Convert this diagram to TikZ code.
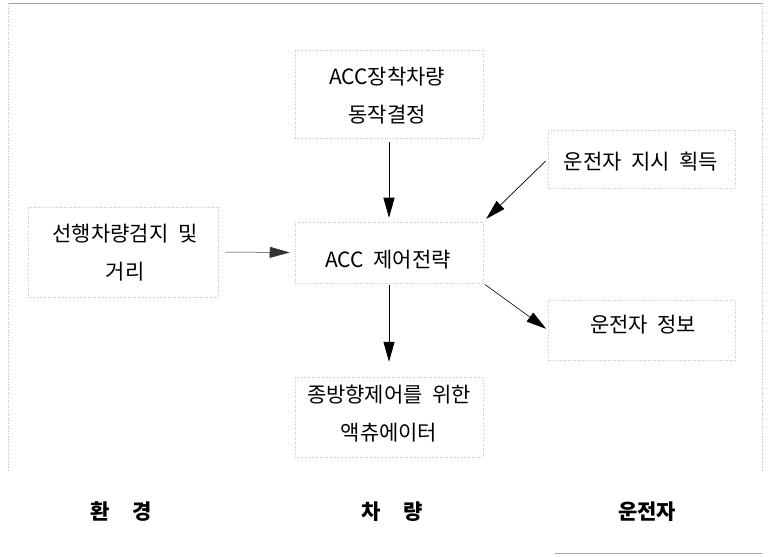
\documentclass[tikz,border=0pt]{standalone}
\usepackage{fontspec}
\newfontfamily\kr[WordSpace=2]{Noto Sans CJK KR}
\usetikzlibrary{arrows.meta}
\begin{document}
\begin{tikzpicture}[x=1bp,y=-1bp,
  box/.style={draw=gray!45, dotted, line width=0.5bp, inner sep=0, minimum width=#1},
  box/.default=188bp,
  txt/.style={font=\kr\fontsize{21bp}{38bp}\selectfont, align=center, inner sep=0},
  lab/.style={font=\kr\bfseries\fontsize{21bp}{24bp}\selectfont, inner sep=0},
  arr/.style={-{Triangle[length=20bp,width=11bp]}, line width=0.7bp, black}]
\useasboundingbox (0,0) rectangle (769,557);
% faint frame
\draw[gray!70, line width=0.6bp] (8,3) -- (762,3);
\draw[gray!50, dotted, line width=0.6bp] (8,3) -- (8,470);
\draw[gray!50, dotted, line width=0.6bp] (762,3) -- (762,470);
\draw[gray!70, line width=0.6bp] (555,553) -- (762,553);
% boxes
\node[box, minimum height=88bp] (btop) at (389,94) {};
\node[box=190bp, minimum height=90bp] (bleft) at (123,252) {};
\node[box, minimum height=61bp] (bcen) at (389,252.5) {};
\node[box=187bp, minimum height=58bp] (brt) at (641.5,159) {};
\node[box=187bp, minimum height=60bp] (brl) at (641.5,330) {};
\node[box, minimum height=80bp] (bbot) at (389,417) {};
% texts
\node[txt] (t1) at (387,96) {ACC장착차량\\동작결정};
\node[txt] (t2) at (125,253) {선행차량검지 및\\거리};
\node[txt] (t3) at (388,260) {ACC 제어전략};
\node[txt] (t4) at (641,162) {운전자 지시 획득};
\node[txt] (t5) at (643,325) {운전자 정보};
\node[txt] (t6) at (389,414) {종방향제어를 위한\\액츄에이터};
\node[lab] (l1) at (121,512) {환\hspace{1.1em}경};
\node[lab] (l2) at (392,512) {차\hspace{1.1em}량};
\node[lab] (l3) at (647,512) {운전자};
% arrows
\draw[arr, shorten <=4bp, shorten >=4bp] (btop.south) -- (bcen.north);
\draw[arr, shorten <=3bp, shorten >=4bp] (brt.west) -- (bcen.north east);
\draw[arr, line width=0.5bp, black!80, shorten <=7bp, shorten >=5bp] (bleft.east) -- (bcen.west);
\draw[arr, shorten <=2bp, shorten >=15bp] (bcen.south) -- (bbot.north);
\draw[arr, line width=0.6bp, shorten <=2bp, shorten >=2bp] (bcen.south east) -- (brl.west);
\end{tikzpicture}
\end{document}
